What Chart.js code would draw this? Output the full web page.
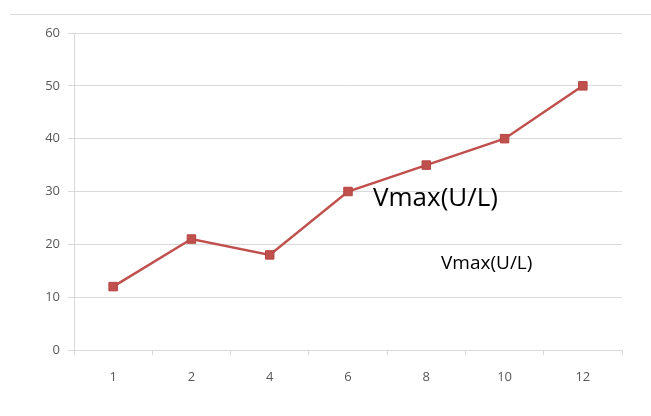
<!DOCTYPE html>
<html>
<head>
<meta charset="utf-8">
<script src="https://cdn.jsdelivr.net/npm/chart.js@4"></script>
<style>
  html, body { margin: 0; padding: 0; background: #fff; }
  #wrap { position: relative; width: 651px; height: 416px; }
</style>
</head>
<body>
<div id="wrap"><canvas id="c" width="651" height="416"></canvas></div>
<script>
// Time points (categories) and measured Vmax values
const categories = ['1', '2', '4', '6', '8', '10', '12'];
const vmaxValues = [12, 21, 18, 30, 35, 40, 50];
const yTicks = [0, 10, 20, 30, 40, 50, 60];
const seriesName = 'Vmax(U/L)';

const lineColor = '#c0504d';
const gridColor = '#d9d9d9';
const tickColor = '#595959';

// Thin rule across the top and the two free-floating captions
const decorations = {
  id: 'decorations',
  afterDraw(chart) {
    const ctx = chart.ctx;
    ctx.save();
    ctx.strokeStyle = '#d9d9d9';
    ctx.lineWidth = 1;
    ctx.beginPath();
    ctx.moveTo(10, 14.5);
    ctx.lineTo(651, 14.5);
    ctx.stroke();

    ctx.fillStyle = '#000';
    ctx.textBaseline = 'middle';
    ctx.textAlign = 'left';
    ctx.font = '26px "Open Sans", "Noto Sans", sans-serif';
    ctx.fillText(seriesName, 373, 199);
    ctx.font = '19px "Open Sans", "Noto Sans", sans-serif';
    ctx.fillText(seriesName, 441, 264);
    ctx.restore();
  }
};

new Chart(document.getElementById('c'), {
  type: 'line',
  data: {
    labels: categories,
    datasets: [{
      label: seriesName,
      data: vmaxValues,
      borderColor: lineColor,
      backgroundColor: lineColor,
      borderWidth: 2.5,
      pointStyle: 'rect',
      pointRadius: 6,
      pointHoverRadius: 6,
      pointBorderWidth: 1,
      pointBorderColor: '#b54542',
      tension: 0
    }]
  },
  options: {
    responsive: false,
    animation: false,
    layout: { padding: { left: 0, right: 29, top: 33, bottom: 0 } },
    plugins: {
      legend: { display: false },
      tooltip: { enabled: false }
    },
    scales: {
      x: {
        type: 'category',
        offset: true,
        afterFit(scale) { scale.height = 66; },
        grid: {
          offset: true,
          drawOnChartArea: false,
          drawTicks: true,
          tickLength: 5,
          color: gridColor
        },
        border: { display: true, color: gridColor, width: 1 },
        ticks: {
          color: tickColor,
          font: { family: '"Open Sans", "Noto Sans", sans-serif', size: 13 },
          padding: 14,
          maxRotation: 0
        }
      },
      y: {
        min: 0,
        max: 60,
        afterFit(scale) { scale.width = 74; },
        afterBuildTicks(scale) { scale.ticks = yTicks.map(v => ({ value: v })); },
        grid: {
          color: gridColor,
          lineWidth: 1,
          drawTicks: true,
          tickLength: 6
        },
        border: { display: true, color: gridColor, width: 1 },
        ticks: {
          color: tickColor,
          font: { family: '"Open Sans", "Noto Sans", sans-serif', size: 13 },
          padding: 8
        }
      }
    }
  },
  plugins: [decorations]
});
</script>
</body>
</html>
